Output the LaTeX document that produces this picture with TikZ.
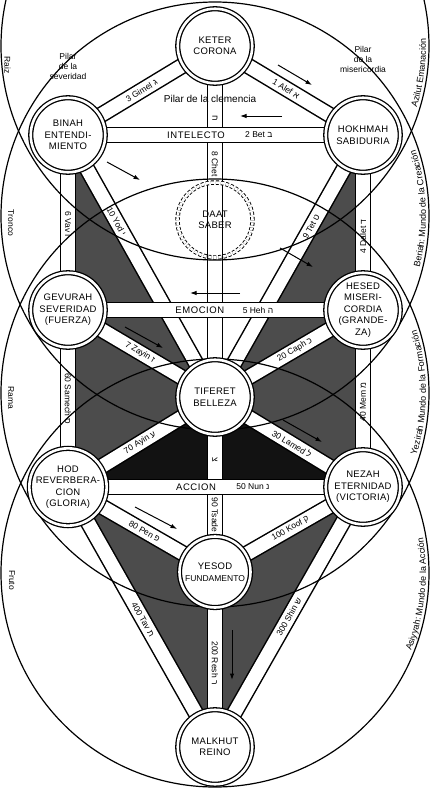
\documentclass[tikz,border=0pt]{standalone}
\usepackage{fontspec}
\setmainfont{Liberation Sans}
\newfontfamily\heb[Script=Hebrew]{Liberation Sans}
\usetikzlibrary{arrows.meta,decorations.text}
\definecolor{shadegray}{gray}{0.30}
\definecolor{deepgray}{gray}{0.07}
\newcommand\rlab{\fontsize{9}{10}\selectfont}
\newcommand\pathband[2]{\draw[bandout] (#1) -- (#2); \draw[bandin] (#1) -- (#2);}
\begin{document}
\begin{tikzpicture}[x=1pt,y=-1pt,
  bandout/.style={line width=16.5pt, draw=black},
  bandin/.style={line width=13.5pt, draw=white},
  world/.style={line width=1.2pt},
  sefira/.style={circle, draw, fill=white, line width=1.3pt, double, double distance=2.6pt,
    minimum size=74.5pt, inner sep=0pt, align=center,
    font=\fontsize{9.5}{11.5}\selectfont\addfontfeatures{LetterSpace=3}},
  daatst/.style={circle, draw, line width=0.9pt, double, double distance=2.6pt,
    dash pattern=on 3pt off 2pt, minimum size=75pt, inner sep=0pt, align=center,
    font=\fontsize{9.5}{11.5}\selectfont\addfontfeatures{LetterSpace=3}},
  plabel/.style={font=\fontsize{8.5}{9}\selectfont, inner sep=1pt},
  hlabel/.style={font=\fontsize{9.5}{10}\selectfont\addfontfeatures{LetterSpace=6}, inner sep=1pt},
  pilar/.style={font=\fontsize{8.5}{10}\selectfont, align=center, inner sep=0pt},
  side/.style={font=\fontsize{8.5}{9}\selectfont, inner sep=0pt},
  flash/.style={line width=1pt, -{Latex[length=6.5pt,width=4.5pt]}},
]
\useasboundingbox (0,0) rectangle (431,790);
\clip (0,0) rectangle (431,790);
\fill[white] (0,0) rectangle (431,790);
% centres of the sefirot
\coordinate (cK) at (215,46);
\coordinate (cB) at (68,135);
\coordinate (cH) at (363,135);
\coordinate (cD) at (215,220);
\coordinate (cG) at (68,310);
\coordinate (cC) at (363,310);
\coordinate (cT) at (215,397);
\coordinate (cHd) at (68,487);
\coordinate (cN) at (363,487);
\coordinate (cY) at (215,572);
\coordinate (cM) at (215,747);
% centres of the four worlds
\coordinate (wA) at (215,46);
\coordinate (wB) at (215,216);
\coordinate (wY) at (215,393);
\coordinate (wS) at (215,573);
% shaded triangles
\fill[shadegray] (cB) -- (cT) -- (cHd) -- cycle;
\fill[shadegray] (cH) -- (cT) -- (cN) -- cycle;
\fill[deepgray] (cHd) -- (cT) -- (cN) -- cycle;
\fill[shadegray] (cHd) -- (cY) -- (cM) -- cycle;
\fill[shadegray] (cN) -- (cY) -- (cM) -- cycle;
% paths (bands)
\pathband{cK}{cT}
\pathband{cT}{cY}
\pathband{cY}{cM}
\pathband{cB}{cG}
\pathband{cG}{cHd}
\pathband{cH}{cC}
\pathband{cC}{cN}
\pathband{cK}{cB}
\pathband{cK}{cH}
\pathband{cB}{cT}
\pathband{cH}{cT}
\pathband{cG}{cT}
\pathband{cC}{cT}
\pathband{cT}{cHd}
\pathband{cT}{cN}
\pathband{cHd}{cY}
\pathband{cN}{cY}
\pathband{cHd}{cM}
\pathband{cN}{cM}
\pathband{cB}{cH}
\pathband{cG}{cC}
\pathband{cHd}{cN}
% four worlds
\draw[world] (wA) circle[radius=214];
\draw[world] (wB) circle[radius=214];
\draw[world] (wY) circle[radius=214];
\draw[world] (wS) circle[radius=214];
% sefirot
\node[daatst] (nD) at (cD) {DAAT\\SABER};
\node[sefira] (nK) at (cK) {KETER\\CORONA};
\node[sefira] (nH) at (cH) {HOKHMAH\\SABIDURIA};
\node[sefira] (nB) at (cB) {BINAH\\ENTENDI-\\MIENTO};
\node[sefira] (nG) at (cG) {GEVURAH\\SEVERIDAD\\(FUERZA)};
\node[sefira] (nC) at (cC) {HESED\\MISERI-\\CORDIA\\(GRANDE-\\ZA)};
\node[sefira] (nT) at (cT) {TIFERET\\BELLEZA};
\node[sefira] (nHd) at (cHd) {HOD\\REVERBERA-\\CION\\(GLORIA)};
\node[sefira] (nN) at (cN) {NEZAH\\ETERNIDAD\\(VICTORIA)};
\node[sefira, minimum size=71pt] (nY) at (cY) {YESOD\\{\fontsize{8.5}{11}\selectfont\addfontfeatures{LetterSpace=0} FUNDAMENTO}};
\node[sefira] (nM) at (cM) {MALKHUT\\REINO};
% diagonal path labels
\path (cB) -- (cK) node[plabel, pos=.50, rotate=31.2] (lGimel) {3 Gimel {\heb ג}};
\path (cK) -- (cH) node[plabel, pos=.48, rotate=-31.0] (lAlef) {1 Alef {\heb א}};
\path (cB) -- (cT) node[plabel, pos=.33, rotate=-60.7] (lYod) {10 Yod {\heb י}};
\path (cT) -- (cH) node[plabel, pos=.65, rotate=60.5] (lTet) {9 Tet {\heb ט}};
\path (cG) -- (cT) node[plabel, pos=.49, rotate=-30.6] (lZayin) {7 Zayin {\heb ז}};
\path (cT) -- (cC) node[plabel, pos=.54, rotate=30.4] (lCaph) {20 Caph {\heb כ}};
\path (cHd) -- (cT) node[plabel, pos=.49, rotate=31.5] (lAyin) {70 Ayin {\heb ע}};
\path (cT) -- (cN) node[plabel, pos=.52, rotate=-31.3] (lLamed) {30 Lamed {\heb ל}};
\path (cHd) -- (cY) node[plabel, pos=.52, rotate=-30.0] (lPen) {80 Pen {\heb פ}};
\path (cY) -- (cN) node[plabel, pos=.51, rotate=29.9] (lKoof) {100 Koof {\heb ק}};
\path (cHd) -- (cM) node[plabel, pos=.51, rotate=-60.5] (lTav) {400 Tav {\heb ת}};
\path (cM) -- (cN) node[plabel, pos=.50, rotate=60.3] (lShin) {300 Shin {\heb ש}};
% vertical path labels
\path (cB) -- (cG) node[plabel, pos=.51, rotate=-90] (lVav) {6 Vav {\heb ו}};
\path (cG) -- (cHd) node[plabel, pos=.50, rotate=-90] (lSamech) {60 Samech {\heb ס}};
\path (cC) -- (cH) node[plabel, pos=.42, rotate=90] (lDalet) {4 Dalet {\heb ד}};
\path (cN) -- (cC) node[plabel, pos=.48, rotate=90] (lMem) {40 Mem {\heb מ}};
\path (cK) -- (cT) node[plabel, pos=.205, rotate=-90] (lChetL) {\heb ח};
\path (cK) -- (cT) node[plabel, pos=.336, rotate=-90] (lChet) {8 Chet};
\path (cT) -- (cY) node[plabel, pos=.36, rotate=-90] (lTsadeL) {\heb צ};
\path (cT) -- (cY) node[plabel, pos=.674, rotate=-90] (lTsade) {90 Tsade};
\path (cY) -- (cM) node[plabel, pos=.52, rotate=-90] (lResh) {200 Resh {\heb ר}};
% horizontal path labels
\path (cB) -- (cH) node[hlabel, pos=.434] (lInt) {INTELECTO};
\path (cB) -- (cH) node[plabel, pos=.647] (lBet) {2 Bet {\heb ב}};
\path (cG) -- (cC) node[hlabel, pos=.447] (lEmo) {EMOCION};
\path (cG) -- (cC) node[plabel, pos=.644] (lHeh) {5 Heh {\heb ה}};
\path (cHd) -- (cN) node[hlabel, pos=.434] (lAcc) {ACCION};
\path (cHd) -- (cN) node[plabel, pos=.627] (lNun) {50 Nun {\heb נ}};
% pillars
\node[pilar] (pSev) at (68,66) {Pilar\\de la\\severidad};
\node[pilar] (pMis) at (363,59) {Pilar\\de la\\misericordia};
\node[font=\fontsize{10}{11}\selectfont, inner sep=0pt] (pCle) at (210,99) {Pilar de la clemencia};
% left side labels
\node[side, rotate=-90] (sRaiz) at (7.5,65) {Raiz};
\node[side, rotate=-90] (sTronco) at (11,223) {Tronco};
\node[side, rotate=-90] (sRama) at (11,398) {Rama};
\node[side, rotate=-90] (sFruto) at (12,580) {Fruto};
% right side labels along the worlds
\path[decorate, decoration={text along path, text align=center, text={|\rlab|Azilut Emanación}}]
  (wA) ++(37:211) arc[start angle=37, end angle=-22, radius=211];
\path[decorate, decoration={text along path, text align=center, text={|\rlab|Beriah: Mundo de la Creación}}]
  (wB) ++(32:211) arc[start angle=32, end angle=-36, radius=211];
\path[decorate, decoration={text along path, text align=center, text={|\rlab|Yezirah Mundo de la Formación}}]
  (wY) ++(32:211) arc[start angle=32, end angle=-32, radius=211];
\path[decorate, decoration={text along path, text align=center, text={|\rlab|Asiyyah: Mundo de la Acción}}]
  (wS) ++(38:211) arc[start angle=38, end angle=-26, radius=211];
% lightning flash arrows
\coordinate (a1s) at (278,65);  \coordinate (a1e) at (312,85);
\coordinate (a2s) at (282,116); \coordinate (a2e) at (240,116);
\coordinate (a3s) at (107,162); \coordinate (a3e) at (140,180);
\coordinate (a4s) at (280,248); \coordinate (a4e) at (313,267);
\coordinate (a5s) at (240,293); \coordinate (a5e) at (190,293);
\coordinate (a6s) at (125,327); \coordinate (a6e) at (163,348);
\coordinate (a7s) at (283,420); \coordinate (a7e) at (322,442);
\coordinate (a8s) at (135,507); \coordinate (a8e) at (177,529);
\coordinate (a9s) at (232,630); \coordinate (a9e) at (232,680);
\draw[flash] (a1s) -- (a1e);
\draw[flash] (a2s) -- (a2e);
\draw[flash] (a3s) -- (a3e);
\draw[flash] (a4s) -- (a4e);
\draw[flash] (a5s) -- (a5e);
\draw[flash] (a6s) -- (a6e);
\draw[flash] (a7s) -- (a7e);
\draw[flash] (a8s) -- (a8e);
\draw[flash] (a9s) -- (a9e);
\end{tikzpicture}
\end{document}
